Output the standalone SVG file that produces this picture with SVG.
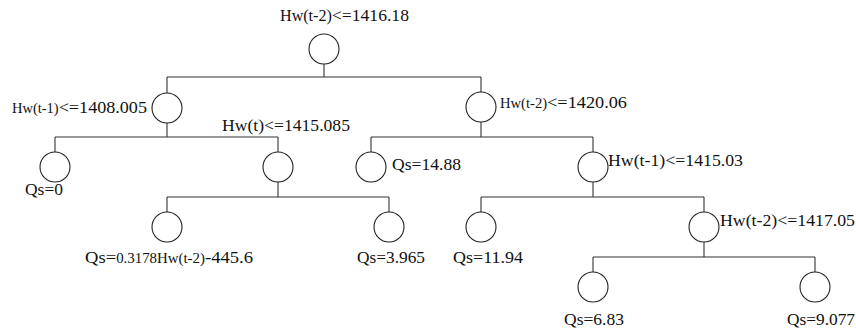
<svg xmlns="http://www.w3.org/2000/svg" width="856" height="331" viewBox="0 0 856 331">
<style>
.n{fill:#fff;stroke:#222;stroke-width:1.1}
.c{fill:none;stroke:#333;stroke-width:1.1}
.t{font-family:'Liberation Serif','DejaVu Serif',serif;font-size:17.5px;fill:#111}
.s{font-size:14px}
.m{font-size:16px}
</style>
<rect width="856" height="331" fill="#fff"/>
<g id="connectors">
<path class="c" d="M324,64V77M167,77H481M167,77V93M481,77V92"/>
<path class="c" d="M167,123V137M55,137H278M55,137V152M278,137V152"/>
<path class="c" d="M278,182V197M167,197H389M167,197V212M389,197V212"/>
<path class="c" d="M481,122V137M371,137H593M371,137V152M593,137V152"/>
<path class="c" d="M593,182V197M481,197H704M481,197V212M704,197V212"/>
<path class="c" d="M704,242V257M593,257H815M593,257V272M815,257V272"/>
</g>
<g font-family="Liberation Serif, DejaVu Serif, serif">
<g id="root"><circle class="n" cx="324" cy="49" r="15"/><text class="t" x="280" y="21" textLength="129" lengthAdjust="spacingAndGlyphs"><tspan class="m">Hw(t-2)</tspan>&lt;=1416.18</text></g>
<g id="n_l"><circle class="n" cx="167" cy="108" r="15"/><text class="t" x="12" y="113" textLength="135" lengthAdjust="spacingAndGlyphs"><tspan class="s">Hw(t-1)</tspan>&lt;=1408.005</text></g>
<g id="n_r"><circle class="n" cx="481" cy="107" r="15"/><text class="t" x="500" y="108" textLength="127" lengthAdjust="spacingAndGlyphs"><tspan class="s">Hw(t-2)</tspan>&lt;=1420.06</text></g>
<g id="n_ll"><circle class="n" cx="55" cy="167" r="15"/><text class="t" x="25" y="195" textLength="38" lengthAdjust="spacingAndGlyphs">Qs=0</text></g>
<g id="n_lr"><circle class="n" cx="278" cy="167" r="15"/><text class="t" x="222" y="131" textLength="128" lengthAdjust="spacingAndGlyphs">Hw(t)&lt;=1415.085</text></g>
<g id="n_lrl"><circle class="n" cx="167" cy="227" r="15"/><text class="t" x="85" y="263" textLength="168" lengthAdjust="spacingAndGlyphs">Qs=<tspan class="s">0.3178Hw(t-2)</tspan>-445.6</text></g>
<g id="n_lrr"><circle class="n" cx="389" cy="227" r="15"/><text class="t" x="357" y="263" textLength="68" lengthAdjust="spacingAndGlyphs">Qs=3.965</text></g>
<g id="n_rl"><circle class="n" cx="371" cy="167" r="15"/><text class="t" x="392" y="170" textLength="69" lengthAdjust="spacingAndGlyphs">Qs=14.88</text></g>
<g id="n_rr"><circle class="n" cx="593" cy="167" r="15"/><text class="t" x="608" y="166" textLength="135" lengthAdjust="spacingAndGlyphs">Hw(t-1)&lt;=1415.03</text></g>
<g id="n_rrl"><circle class="n" cx="481" cy="227" r="15"/><text class="t" x="453" y="263" textLength="70" lengthAdjust="spacingAndGlyphs">Qs=11.94</text></g>
<g id="n_rrr"><circle class="n" cx="704" cy="227" r="15"/><text class="t" x="720" y="226" textLength="135" lengthAdjust="spacingAndGlyphs">Hw(t-2)&lt;=1417.05</text></g>
<g id="n_rrrl"><circle class="n" cx="593" cy="287" r="15"/><text class="t" x="564" y="325" textLength="60" lengthAdjust="spacingAndGlyphs">Qs=6.83</text></g>
<g id="n_rrrr"><circle class="n" cx="815" cy="287" r="15"/><text class="t" x="787" y="325" textLength="68" lengthAdjust="spacingAndGlyphs">Qs=9.077</text></g>
</g>
</svg>
